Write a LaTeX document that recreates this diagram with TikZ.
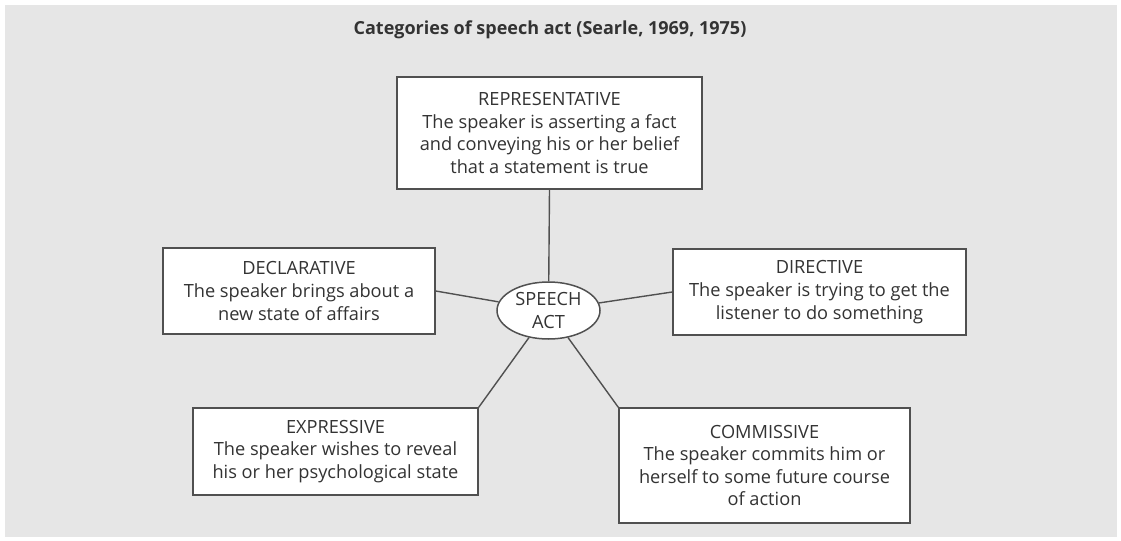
\documentclass[tikz,border=0pt]{standalone}
\usepackage{fontspec}
\setmainfont{Open Sans}
\usetikzlibrary{shapes.geometric}
\definecolor{bg}{HTML}{E6E6E6}
\definecolor{ink}{HTML}{333333}
\definecolor{edge}{HTML}{505050}
\tikzset{
  catbox/.style={draw=edge, line width=0.75pt, fill=white, text=ink, align=center,
    inner sep=0pt, font=\fontsize{9.1}{11.3}\selectfont},
  link/.style={draw=edge, line width=0.7pt},
}
\begin{document}
\begin{tikzpicture}[x=0.5pt,y=-0.5pt]
\useasboundingbox (0,0) rectangle (1121,541);
\fill[white] (0,0) rectangle (1121,541);
\fill[bg] (5,5) rectangle (1117,537);
\node[text=ink, font=\bfseries\fontsize{9}{10}\selectfont] (title) at (550,30) {Categories of speech act (Searle, 1969, 1975)};
\node[catbox, minimum width=152.5pt, minimum height=56pt] (rep) at (549.5,133)
  {REPRESENTATIVE\\The speaker is asserting a fact\\and conveying his or her belief\\that a statement is true};
\node[catbox, minimum width=136pt, minimum height=43pt] (decl) at (299,291)
  {DECLARATIVE\\The speaker brings about a\\new state of affairs};
\node[catbox, minimum width=146.5pt, minimum height=43pt] (dir) at (819.5,292)
  {DIRECTIVE\\The speaker is trying to get the\\listener to do something};
\node[catbox, minimum width=142.5pt, minimum height=43.5pt] (expr) at (335.5,451.5)
  {EXPRESSIVE\\The speaker wishes to reveal\\his or her psychological state};
\node[catbox, minimum width=145.5pt, minimum height=57.5pt] (comm) at (764.5,465.5)
  {COMMISSIVE\\The speaker commits him or\\herself to some future course\\of action};
\node[ellipse, draw=edge, line width=0.75pt, fill=white, text=ink, align=center,
  inner sep=0pt, minimum width=51.5pt, minimum height=28.5pt,
  font=\fontsize{9.1}{11.3}\selectfont] (sa) at (548.5,310.5) {SPEECH\\ACT};
\draw[link] (rep.south) -- (sa);
\draw[link] (decl.east) -- (sa);
\draw[link] (dir.west) -- (sa);
\draw[link] (expr.north east) -- (sa);
\draw[link] (comm.north west) -- (sa);
\end{tikzpicture}
\end{document}
